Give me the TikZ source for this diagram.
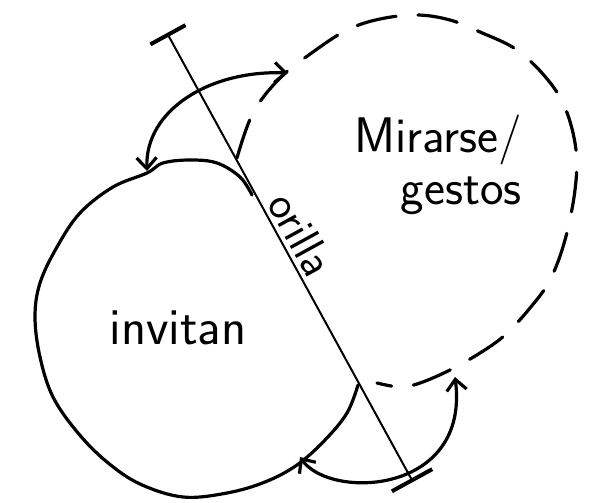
\documentclass[tikz,border=0pt]{standalone}
\usepackage{fontspec}
\usetikzlibrary{arrows.meta}
\begin{document}
\begin{tikzpicture}[x=1pt,y=-1pt,
  ink/.style={line width=3.2pt, line cap=round, line join=round},
  dashink/.style={ink, dash pattern=on 40pt off 22pt},
  conn/.style={ink, {Straight Barb[length=11pt,width=20pt]}-{Straight Barb[length=11pt,width=20pt]}},
  txt/.style={font=\sffamily\fontsize{50}{52}\selectfont, inner sep=0pt}]
\useasboundingbox (0,0) rectangle (598,503);

% solid region (invitan)
\draw[ink] plot[smooth, tension=0.6] coordinates {(252,195) (240,177) (217,163) (190,160) (163,163) (147,173) (113,187) (80,213) (57,247) (40,283) (35,317) (40,357) (53,397) (78,433) (107,462) (140,484) (183,497) (227,493) (265,482) (297,465) (325,440) (347,413) (358,385)};

% dashed region (Mirarse/gestos)
\draw[dashink] plot[smooth, tension=0.6] coordinates {(237,158) (253,113) (280,78) (313,52) (347,30) (380,19) (417,15) (450,20) (480,32) (517,50) (548,80) (566,110) (576,150) (575,190) (565,240) (550,280) (530,308) (505,335) (480,353) (450,370) (420,383) (400,387) (377,383)};

% shore line
\coordinate (ltop) at (167,33);
\coordinate (lbot) at (413,482);
\draw[line width=2pt, {Bar[width=40pt,line width=4pt]}-{Bar[width=46pt,line width=4pt]}] (ltop) -- node[pos=0.47, above=4pt, sloped, txt, font=\sffamily\fontsize{46}{48}\selectfont] (orilla) {orilla} (lbot);

% texts
\node[txt, font=\sffamily\fontsize{52}{54}\selectfont] (invitan) at (178,328) {invitan};
\node[txt, align=right, anchor=east] (mirarse) at (522,165) {Mirarse/\\gestos};

% connectors
\coordinate (tA) at (147,171);
\coordinate (tB) at (288,73);
\draw[conn] (tA) .. controls (145,110) and (210,70) .. (tB);
\coordinate (bA) at (300,457);
\coordinate (bB) at (455,377);
\draw[conn] (bA) .. controls (330,500) and (470,495) .. (bB);
\end{tikzpicture}
\end{document}
